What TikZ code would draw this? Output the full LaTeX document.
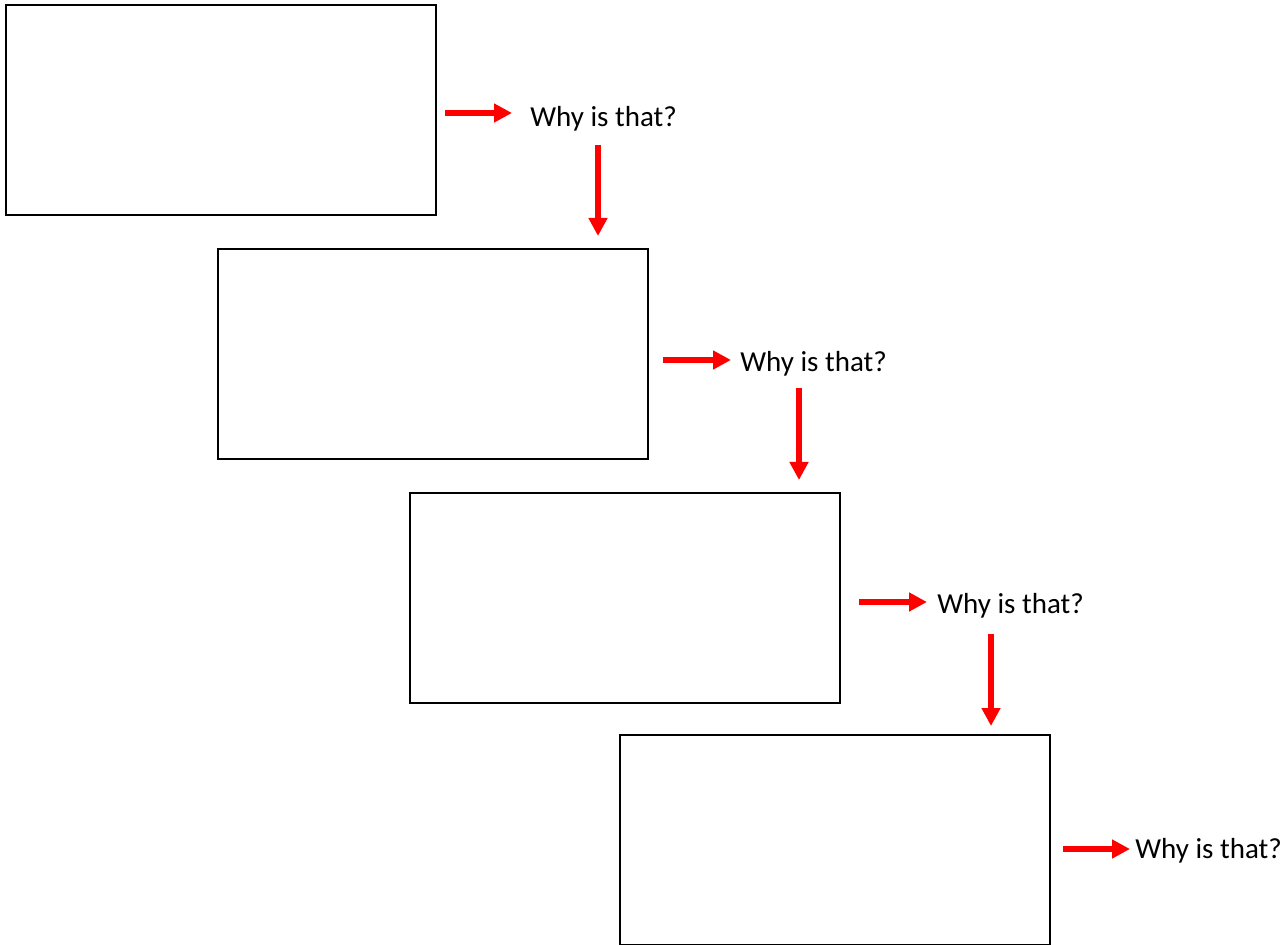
\documentclass[tikz,border=0pt]{standalone}
\usepackage{fontspec}
\setmainfont{Carlito}
\usepackage{tikz}
\usetikzlibrary{calc,arrows.meta}
\def\drawwhy{\draw[color=red, line width=2.75pt, -{Triangle[length=9pt,width=9pt]}]}
\def\boxnode{\node[draw=black,line width=1pt,minimum width=215pt,minimum height=105pt,inner sep=0pt,anchor=north west]}
\def\whynode{\node[anchor=base west,inner sep=0pt,font=\fontsize{14.5}{17}\selectfont]}

\begin{document}
\begin{tikzpicture}[x=0.5pt,y=-0.5pt]
\useasboundingbox (0,0) rectangle (1283,945);

% the four empty boxes, stepping down to the right
\boxnode (box1) at (5,4) {};
\boxnode (box2) at (217,248) {};
\boxnode (box3) at (409,492) {};
\boxnode (box4) at (619,734) {};

% the questions beside each box
\whynode (why1) at (530,127) {Why is that?};
\whynode (why2) at (740,372) {Why is that?};
\whynode (why3) at (937,613) {Why is that?};
\whynode (why4) at (1135,858) {Why is that?};

% ---------- box -> question
\coordinate (e1) at ($ (why1.base west) + (-18,-14) $);
\coordinate (e2) at ($ (why2.base west) + (-9,-12) $);
\coordinate (e3) at ($ (why3.base west) + (-10,-11) $);
\coordinate (e4) at ($ (why4.base west) + (-5,-9) $);
\drawwhy ($ (box1.east |- e1) + (8,0) $) to (e1);
\drawwhy ($ (box2.east |- e2) + (14,0) $) to (e2);
\drawwhy ($ (box3.east |- e3) + (18,0) $) to (e3);
\drawwhy ($ (box4.east |- e4) + (12,0) $) to (e4);

% ---------- question -> next box
\coordinate (v1) at ($ (why1.base west) + (68,18) $);
\coordinate (v2) at ($ (why2.base west) + (59,16) $);
\coordinate (v3) at ($ (why3.base west) + (54,21) $);
\drawwhy (v1) to ($ (v1 |- box2.north) + (0,-12) $);
\drawwhy (v2) to ($ (v2 |- box3.north) + (0,-12) $);
\drawwhy (v3) to ($ (v3 |- box4.north) + (0,-8) $);
\end{tikzpicture}
\end{document}
